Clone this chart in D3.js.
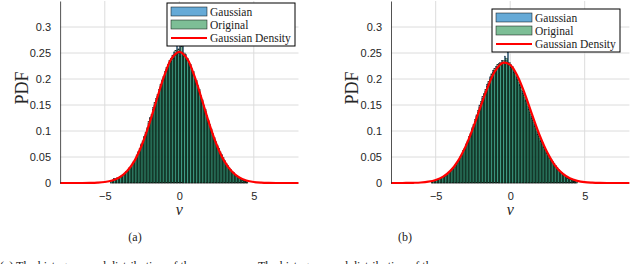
<!DOCTYPE html>
<html>
<head>
<meta charset="utf-8">
<script src="https://cdn.jsdelivr.net/npm/d3@7"></script>
<style>
body { margin: 0; background: #fff; }
svg { display: block; }
</style>
</head>
<body>
<svg id="fig" width="640" height="264"></svg>
<script>
// histogram bins are 0.1 wide; first bin edge of each panel
var binWidth = 0.1;
var binStartA = -4.6;
var binStartB = -5.3;

// (a) bin heights, -4.6 .. 4.6
var gaussA = [0.002,0.004,0.009,0.007,0.008,0.011,0.010,0.014,0.016,0.017,0.022,0.023,0.029,0.030,0.035,0.042,0.044,0.050,0.060,0.063,
  0.075,0.077,0.088,0.097,0.102,0.115,0.126,0.128,0.145,0.150,0.162,0.166,0.180,0.185,0.198,0.202,0.214,0.218,0.228,0.232,
  0.240,0.238,0.252,0.246,0.268,0.250,
  0.270,0.252,0.265,0.244,0.247,0.236,0.234,0.222,0.220,0.208,0.204,0.192,0.188,0.175,0.168,0.156,0.150,0.137,0.130,0.118,
  0.113,0.100,0.095,0.085,0.080,0.070,0.067,0.057,0.055,0.046,0.043,0.036,0.034,0.027,0.026,0.020,0.020,0.015,0.014,0.011,
  0.010,0.007,0.007,0.005,0.003,0.002];
var origA = [0.003,0.006,0.008,0.006,0.010,0.009,0.012,0.015,0.014,0.019,0.020,0.024,0.027,0.031,0.036,0.040,0.045,0.054,0.058,0.066,
  0.072,0.081,0.090,0.094,0.106,0.118,0.124,0.132,0.141,0.155,0.158,0.170,0.176,0.190,0.196,0.205,0.210,0.222,0.224,0.236,
  0.234,0.246,0.240,0.255,0.248,0.258,
  0.244,0.262,0.247,0.250,0.241,0.240,0.230,0.228,0.216,0.214,0.200,0.197,0.184,0.180,0.165,0.160,0.146,0.142,0.127,0.121,
  0.110,0.104,0.092,0.088,0.078,0.073,0.066,0.060,0.053,0.049,0.042,0.038,0.033,0.029,0.025,0.022,0.019,0.016,0.013,0.012,
  0.009,0.008,0.006,0.004,0.003,0.002];

// (b) bin heights, -5.3 .. 4.5
var gaussB = [0.002,0.005,0.004,0.007,0.007,0.007,0.010,0.010,0.013,0.014,0.015,0.019,0.020,0.025,0.026,0.032,0.034,0.040,0.042,0.050,
  0.052,0.062,0.064,0.075,0.078,0.089,0.093,0.106,0.110,0.118,0.131,0.136,0.150,0.153,0.166,0.170,0.176,0.190,0.192,0.204,
  0.206,0.216,0.216,0.224,0.222,0.230,0.228,0.236,0.232,0.244,
  0.236,0.252,0.226,0.228,0.218,0.216,0.206,0.204,0.194,0.190,0.178,0.176,0.164,0.160,0.148,0.145,0.132,0.128,0.116,0.112,
  0.100,0.097,0.086,0.083,0.074,0.070,0.062,0.060,0.052,0.049,0.046,0.041,0.035,0.034,0.028,0.026,0.021,0.020,0.016,0.015,
  0.011,0.011,0.008,0.008,0.005,0.005,0.003,0.002];
var origB = [0.003,0.004,0.005,0.006,0.006,0.008,0.009,0.011,0.012,0.013,0.016,0.018,0.021,0.023,0.028,0.030,0.035,0.038,0.044,0.048,
  0.054,0.060,0.066,0.072,0.081,0.086,0.096,0.103,0.112,0.122,0.128,0.140,0.146,0.157,0.163,0.172,0.180,0.186,0.195,0.200,
  0.210,0.212,0.220,0.218,0.228,0.226,0.232,0.229,0.236,0.231,
  0.240,0.228,0.232,0.222,0.224,0.212,0.210,0.200,0.198,0.188,0.184,0.172,0.168,0.158,0.152,0.142,0.136,0.125,0.120,0.110,
  0.104,0.094,0.090,0.080,0.078,0.068,0.064,0.058,0.054,0.047,0.044,0.039,0.038,0.032,0.030,0.025,0.022,0.019,0.017,0.014,
  0.012,0.010,0.009,0.007,0.006,0.004,0.003,0.002];

// fitted density curves read at 0.5 steps
var densX = [-8,-7.5,-7,-6.5,-6,-5.5,-5,-4.5,-4,-3.5,-3,-2.5,-2,-1.5,-1,-0.5,0,0.5,1,1.5,2,2.5,3,3.5,4,4.5,5,5.5,6,6.5,7,7.5,8];
var densA = [0,0,0,0,0.0002,0.0007,0.0019,0.0048,0.011,0.023,0.043,0.074,0.115,0.162,0.207,0.240,0.252,
  0.240,0.207,0.162,0.115,0.074,0.043,0.023,0.011,0.0048,0.0019,0.0007,0.0002,0,0,0,0];
var densB = [0,0,0.0001,0.0004,0.001,0.0025,0.0058,0.0122,0.0238,0.0426,0.0699,0.105,0.146,0.185,0.216,0.2311,0.227,
  0.205,0.170,0.129,0.090,0.058,0.034,0.0184,0.0091,0.0042,0.0017,0.0007,0.0002,0,0,0,0];

var xTicks = [-5, 0, 5];
var yTicks = [0, 0.05, 0.1, 0.15, 0.2, 0.25, 0.3];
var legendLabels = ["Gaussian", "Original", "Gaussian Density"];
var captions = ["(a)", "(b)"];

var svg = d3.select("#fig");
var sans = "'Liberation Sans', Arial, sans-serif";
var serif = "'Liberation Serif', 'Times New Roman', serif";
var blueFill = "rgb(0,114,189)";
var greenFill = "rgb(38,147,80)";

var panels = [
  { left: 60.1, right: 298.5, start: binStartA, hists: [gaussA, origA], dens: densA,
    legX: 167, legY: 3, ylabX: 22, capX: 135, caption: captions[0] },
  { left: 391, right: 629.4, start: binStartB, hists: [gaussB, origB], dens: densB,
    legX: 492, legY: 9, ylabX: 352, capX: 405, caption: captions[1] }
];

panels.forEach(function (p) {
  var x = d3.scaleLinear().domain([-8, 8]).range([p.left, p.right]);
  var y = d3.scaleLinear().domain([0, 0.35]).range([183, 1]);
  var g = svg.append("g");

  // grid
  g.selectAll(".gy").data(yTicks.slice(1)).enter().append("line")
    .attr("x1", p.left).attr("x2", p.right)
    .attr("y1", function (d) { return y(d); }).attr("y2", function (d) { return y(d); })
    .attr("stroke", "#dcdcdc").attr("stroke-width", 1);
  g.selectAll(".gx").data(xTicks).enter().append("line")
    .attr("x1", function (d) { return x(d); }).attr("x2", function (d) { return x(d); })
    .attr("y1", y(0.35)).attr("y2", y(0))
    .attr("stroke", "#dcdcdc").attr("stroke-width", 1);

  // histograms
  var colors = [blueFill, greenFill];
  p.hists.forEach(function (h, k) {
    g.selectAll(".bar" + k).data(h).enter().append("rect")
      .attr("x", function (d, i) { return x(p.start + i * binWidth); })
      .attr("y", function (d) { return y(d); })
      .attr("width", function (d, i) { return x(p.start + (i + 1) * binWidth) - x(p.start + i * binWidth); })
      .attr("height", function (d) { return y(0) - y(d); })
      .attr("fill", colors[k]).attr("fill-opacity", 0.6)
      .attr("stroke", "#000").attr("stroke-width", 0.45).attr("stroke-opacity", 0.8);
  });

  // density line
  var line = d3.line()
    .x(function (d, i) { return x(densX[i]); })
    .y(function (d) { return y(d); })
    .curve(d3.curveCatmullRom.alpha(0.5));
  g.append("path").datum(p.dens).attr("d", line)
    .attr("fill", "none").attr("stroke", "#ff0000").attr("stroke-width", 2.2);

  // axes
  var ya = d3.axisLeft(y).tickValues(yTicks).tickSize(0).tickPadding(9)
    .tickFormat(function (d) { return d3.format("")(+d.toFixed(2)); });
  var yg = g.append("g").attr("transform", "translate(" + p.left + ",0)").call(ya);
  yg.select(".domain").attr("stroke", "#262626").attr("stroke-width", 0.8);
  yg.selectAll("text").attr("font-family", sans).attr("font-size", 11).attr("fill", "#262626");

  var xa = d3.axisBottom(x).tickValues(xTicks).tickSize(0).tickPadding(9);
  var xg = g.append("g").attr("transform", "translate(0,183)").call(xa);
  xg.select(".domain").remove();
  xg.selectAll("text").attr("font-family", sans).attr("font-size", 11).attr("fill", "#262626");

  // axis labels
  g.append("text").attr("transform", "translate(" + (p.ylabX + 6) + ",88) rotate(-90)")
    .attr("text-anchor", "middle").attr("font-family", serif).attr("font-size", 18)
    .attr("fill", "#262626").text("PDF");
  g.append("text").attr("x", x(0)).attr("y", 215)
    .attr("text-anchor", "middle").attr("font-family", serif).attr("font-style", "italic")
    .attr("font-size", 16).attr("fill", "#262626").text("\u03BD");

  // legend
  var lg = g.append("g").attr("transform", "translate(" + p.legX + "," + p.legY + ")");
  lg.append("rect").attr("width", 128).attr("height", 43)
    .attr("fill", "#fff").attr("stroke", "#000").attr("stroke-width", 1);
  legendLabels.forEach(function (lab, i) {
    var cy = 8.5 + i * 13;
    if (i < 2) {
      lg.append("rect").attr("x", 4).attr("y", cy - 4.5).attr("width", 36).attr("height", 9)
        .attr("fill", colors[i]).attr("fill-opacity", 0.6)
        .attr("stroke", "#000").attr("stroke-width", 0.6).attr("stroke-opacity", 0.8);
    } else {
      lg.append("line").attr("x1", 4).attr("x2", 40).attr("y1", cy + 0.5).attr("y2", cy + 0.5)
        .attr("stroke", "#ff0000").attr("stroke-width", 2);
    }
    lg.append("text").attr("x", 43).attr("y", cy + 4)
      .attr("font-family", serif).attr("font-size", 11.5).attr("fill", "#222").text(lab);
  });

  // sub caption
  svg.append("text").attr("x", p.capX).attr("y", 241).attr("text-anchor", "middle")
    .attr("font-family", serif).attr("font-size", 12).attr("fill", "#222").text(p.caption);
});

// top of the next caption line, cut by the page edge
svg.append("text").attr("x", 0).attr("y", 269.5).attr("font-family", serif).attr("font-size", 12)
  .attr("fill", "#222").text("(a) The histogram and distribution of the");
svg.append("text").attr("x", 258).attr("y", 269.5).attr("font-family", serif).attr("font-size", 12)
  .attr("fill", "#222").text("The histogram and distribution of the");
</script>
</body>
</html>
